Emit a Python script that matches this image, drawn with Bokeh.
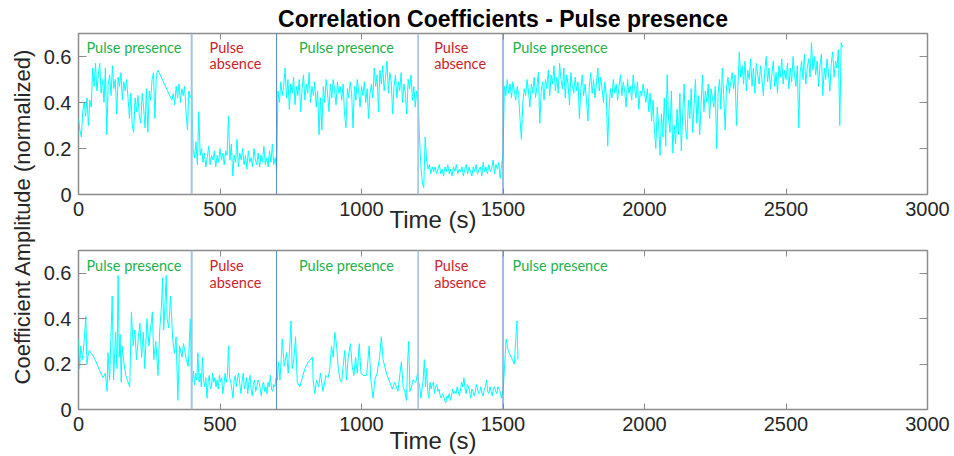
import numpy as np
from bokeh.plotting import figure
from bokeh.layouts import row, column
from bokeh.models import Range1d, LinearAxis, FixedTicker, Span, Label, Title
from bokeh.embed import file_html
from bokeh.resources import INLINE
from bokeh.core.properties import value

# ---------------- data ----------------
STEP = 5  # sampling step (s) of the regularly sampled parts

# top panel (segments, each sampled every STEP seconds from its start)
top_a_start = 0
top_a = [0.33, 0.28, 0.25, 0.36, 0.40, 0.34, 0.42, 0.30, 0.41, 0.38,
         0.55, 0.47, 0.57, 0.45, 0.52, 0.57, 0.44, 0.50, 0.40, 0.55,
         0.26, 0.48, 0.52, 0.43, 0.56, 0.46, 0.50, 0.35, 0.51, 0.47,
         0.53, 0.41, 0.49, 0.45, 0.50, 0.42, 0.33, 0.44, 0.30, 0.27,
         0.42, 0.36, 0.43, 0.34, 0.31, 0.44, 0.38, 0.29, 0.46, 0.27,
         0.45, 0.41, 0.50, 0.53, 0.33, 0.52, 0.54, 0.53]
top_b_start = 330
top_b = [0.41, 0.44, 0.39, 0.47, 0.42, 0.48, 0.40, 0.46, 0.43, 0.47,
         0.36, 0.28, 0.45, 0.42, 0.44]
top_c_start = 405
top_c = [0.20, 0.16, 0.23, 0.13, 0.36, 0.17, 0.20, 0.14, 0.18, 0.12,
         0.16, 0.21, 0.13, 0.17, 0.15, 0.19, 0.12, 0.17, 0.14, 0.20,
         0.15, 0.18, 0.13, 0.19, 0.17, 0.34, 0.15, 0.22, 0.08, 0.17,
         0.14, 0.24, 0.12, 0.18, 0.15, 0.20, 0.13, 0.17, 0.11, 0.19,
         0.14, 0.16, 0.12, 0.20, 0.15, 0.13, 0.18, 0.12, 0.17, 0.14,
         0.21, 0.13, 0.16, 0.12, 0.19, 0.14, 0.22, 0.13, 0.16, 0.11]
top_d_start = 705
top_d = [0.45, 0.40, 0.49, 0.43, 0.47, 0.55, 0.42, 0.50, 0.37, 0.48,
         0.44, 0.51, 0.39, 0.47, 0.43, 0.50, 0.36, 0.46, 0.52, 0.41,
         0.48, 0.44, 0.53, 0.40, 0.47, 0.43, 0.49, 0.38, 0.45, 0.26,
         0.42, 0.28, 0.47, 0.40, 0.50, 0.44, 0.36, 0.48, 0.42, 0.50,
         0.45, 0.39, 0.49, 0.44, 0.47, 0.41, 0.48, 0.35, 0.29, 0.46,
         0.42, 0.49, 0.44, 0.29, 0.47, 0.41, 0.50, 0.45, 0.38, 0.47,
         0.43, 0.49, 0.40, 0.46, 0.33, 0.44, 0.48, 0.42, 0.55, 0.47,
         0.52, 0.36, 0.54, 0.48, 0.56, 0.45, 0.51, 0.58, 0.44, 0.53,
         0.49, 0.35, 0.47, 0.52, 0.42, 0.49, 0.45, 0.53, 0.40, 0.48,
         0.44, 0.35, 0.50, 0.46, 0.52, 0.41, 0.47, 0.38, 0.45, 0.42]
top_e_start = 1205
top_e = [0.25, 0.12, 0.05, 0.03, 0.25, 0.15, 0.11, 0.13, 0.09, 0.12,
         0.10, 0.12, 0.09, 0.11, 0.13, 0.09, 0.11, 0.08, 0.12, 0.10,
         0.13, 0.09, 0.11, 0.08, 0.12, 0.10, 0.13, 0.09, 0.11, 0.10,
         0.12, 0.08, 0.11, 0.13, 0.09, 0.12, 0.10, 0.08, 0.12, 0.10,
         0.13, 0.09, 0.11, 0.12, 0.08, 0.14, 0.10, 0.12, 0.09, 0.13,
         0.10, 0.11, 0.15, 0.09, 0.13, 0.11, 0.14, 0.07, 0.13, 0.17]
top_f_start = 1505
top_f = [0.47, 0.43, 0.50, 0.44, 0.48, 0.42, 0.49, 0.45, 0.41, 0.47,
         0.44, 0.33, 0.24, 0.40, 0.46, 0.43, 0.50, 0.45, 0.38, 0.48,
         0.44, 0.51, 0.42, 0.47, 0.53, 0.31, 0.45, 0.49, 0.41, 0.50,
         0.46, 0.54, 0.43, 0.52, 0.48, 0.56, 0.45, 0.51, 0.44, 0.57,
         0.50, 0.46, 0.55, 0.42, 0.52, 0.48, 0.39, 0.53, 0.47, 0.44,
         0.51, 0.45, 0.49, 0.33, 0.46, 0.52, 0.43, 0.48, 0.41, 0.32,
         0.47, 0.53, 0.44, 0.50, 0.42, 0.48, 0.55, 0.45, 0.51, 0.46,
         0.40, 0.49, 0.43, 0.21, 0.38, 0.46, 0.42, 0.50, 0.44, 0.48,
         0.41, 0.47, 0.52, 0.43, 0.49, 0.45, 0.38, 0.50, 0.44, 0.47,
         0.41, 0.52, 0.46, 0.42, 0.49, 0.37, 0.45, 0.43, 0.48, 0.44,
         0.40, 0.46, 0.36, 0.44, 0.32, 0.41, 0.28, 0.20, 0.38, 0.30,
         0.17, 0.35, 0.25, 0.42, 0.21, 0.52, 0.33, 0.27, 0.45, 0.18,
         0.30, 0.22, 0.37, 0.26, 0.44, 0.19, 0.35, 0.48, 0.29, 0.24,
         0.41, 0.33, 0.46, 0.27, 0.38, 0.50, 0.31, 0.43, 0.26, 0.39,
         0.52, 0.36, 0.45, 0.40, 0.48, 0.33, 0.46, 0.42, 0.38, 0.47,
         0.20, 0.44, 0.50, 0.37, 0.55, 0.43, 0.28, 0.47, 0.51, 0.44,
         0.49, 0.53, 0.46, 0.52, 0.30, 0.47, 0.62, 0.51, 0.56, 0.48,
         0.58, 0.45, 0.54, 0.50, 0.59, 0.47, 0.55, 0.44, 0.57, 0.52,
         0.48, 0.56, 0.50, 0.43, 0.54, 0.60, 0.49, 0.55, 0.46, 0.52,
         0.58, 0.47, 0.53, 0.44, 0.56, 0.51, 0.59, 0.48, 0.54, 0.50,
         0.57, 0.46, 0.55, 0.49, 0.60, 0.52, 0.47, 0.56, 0.29, 0.53,
         0.58, 0.50, 0.61, 0.48, 0.55, 0.59, 0.51, 0.66, 0.54, 0.60,
         0.52, 0.58, 0.47, 0.56, 0.61, 0.43, 0.55, 0.50, 0.59, 0.53,
         0.45, 0.57, 0.62, 0.51, 0.58, 0.55, 0.63, 0.30, 0.66, 0.64]

# bottom panel
bot_a_t = [0, 4, 8, 14, 20, 26, 30, 34, 38, 50, 62, 75, 87, 95, 101, 104, 110, 119, 124, 131,
           136, 140, 144, 147, 151, 154, 160, 167, 181, 187, 193, 199, 205, 211, 217, 223, 229,
           234, 242, 249, 254, 261, 266, 273, 281, 287, 293, 297, 301, 304, 310, 313, 319, 325,
           333, 339, 345, 351, 357, 366, 371, 381, 388, 395, 399]
bot_a_v = [0.31, 0.18, 0.28, 0.22, 0.30, 0.41, 0.20, 0.24, 0.26, 0.24, 0.21, 0.17, 0.14, 0.16,
           0.08, 0.25, 0.13, 0.50, 0.13, 0.34, 0.18, 0.59, 0.23, 0.33, 0.12, 0.28, 0.21, 0.15,
           0.10, 0.43, 0.28, 0.35, 0.22, 0.31, 0.38, 0.23, 0.34, 0.18, 0.40, 0.28, 0.35, 0.43,
           0.22, 0.30, 0.15, 0.35, 0.45, 0.58, 0.35, 0.42, 0.59, 0.40, 0.36, 0.50, 0.31, 0.25,
           0.32, 0.04, 0.28, 0.23, 0.29, 0.22, 0.19, 0.40, 0.16]
bot_b_start = 402
bot_b_step = 4
bot_b = [0.12, 0.17, 0.11, 0.16, 0.13, 0.25, 0.12, 0.16, 0.10, 0.23,
         0.13, 0.10, 0.14, 0.05, 0.12, 0.15, 0.09, 0.10, 0.16, 0.12,
         0.14, 0.10, 0.13, 0.09, 0.15, 0.12, 0.14, 0.07, 0.11, 0.16,
         0.12, 0.15, 0.28, 0.14, 0.12, 0.09, 0.05, 0.13, 0.15, 0.10,
         0.14, 0.16, 0.11, 0.07, 0.12, 0.16, 0.09, 0.11, 0.14, 0.07,
         0.12, 0.15, 0.09, 0.06, 0.11, 0.13, 0.08, 0.10, 0.13, 0.12,
         0.09, 0.06, 0.11, 0.12, 0.08, 0.10, 0.07, 0.12, 0.10, 0.15,
         0.09, 0.08, 0.11, 0.10, 0.14]
bot_c_t = [703, 706, 712, 720, 727, 735, 741, 747, 751, 755, 761, 767, 773, 782, 800, 812, 827,
           829, 835, 841, 849, 855, 864, 874, 882, 888, 894, 900, 906, 912, 918, 924, 930, 935,
           941, 947, 953, 961, 967, 973, 979, 985, 992, 998, 1006, 1018, 1027, 1033, 1041, 1047,
           1055, 1064, 1070, 1076, 1088, 1100, 1109, 1117, 1129, 1135, 1141, 1147, 1153, 1159,
           1163, 1167, 1171, 1177, 1182, 1192, 1198]
bot_c_v = [0.13, 0.21, 0.13, 0.31, 0.19, 0.25, 0.16, 0.29, 0.39, 0.18, 0.22, 0.32, 0.12, 0.10,
           0.18, 0.21, 0.23, 0.13, 0.07, 0.13, 0.10, 0.16, 0.08, 0.15, 0.14, 0.18, 0.28, 0.23,
           0.34, 0.28, 0.18, 0.13, 0.12, 0.19, 0.26, 0.13, 0.23, 0.29, 0.19, 0.15, 0.23, 0.16,
           0.29, 0.16, 0.15, 0.15, 0.28, 0.13, 0.05, 0.13, 0.16, 0.23, 0.32, 0.22, 0.16, 0.12,
           0.09, 0.12, 0.08, 0.15, 0.21, 0.10, 0.08, 0.04, 0.21, 0.30, 0.08, 0.10, 0.13, 0.12,
           0.16]
bot_d_start = 1202
bot_d_step = 4
bot_d = [0.12, 0.10, 0.05, 0.09, 0.13, 0.22, 0.10, 0.18, 0.08, 0.05,
         0.12, 0.09, 0.11, 0.12, 0.07, 0.10, 0.11, 0.08, 0.09, 0.06,
         0.05, 0.07, 0.06, 0.04, 0.03, 0.06, 0.05, 0.07, 0.04, 0.06,
         0.09, 0.07, 0.08, 0.07, 0.10, 0.08, 0.06, 0.09, 0.12, 0.10,
         0.14, 0.09, 0.07, 0.11, 0.10, 0.08, 0.05, 0.09, 0.08, 0.06,
         0.08, 0.11, 0.09, 0.07, 0.08, 0.10, 0.07, 0.06, 0.09, 0.10,
         0.13, 0.08, 0.07, 0.10, 0.08, 0.06, 0.09, 0.10, 0.08, 0.07,
         0.10, 0.09, 0.08, 0.05, 0.07]
bot_e_t = [1500, 1511, 1518, 1540, 1549, 1553]
bot_e_v = [0.07, 0.31, 0.26, 0.20, 0.39, 0.22]

boundaries = [400, 700, 1200, 1500]
x_ticks = [0, 500, 1000, 1500, 2000, 2500, 3000]
y_ticks = [0, 0.2, 0.4, 0.6]

presence_text = "Pulse presence"
absence_lines = ["Pulse", "absence"]
presence_x = [28, 779, 1534]
absence_x = [463, 1257]

# ---------------- assemble series ----------------
def grid(start, step, vals):
    return list(start + step * np.arange(len(vals)))

top_t = (grid(top_a_start, STEP, top_a) + grid(top_b_start, STEP, top_b) +
         grid(top_c_start, STEP, top_c) + grid(top_d_start, STEP, top_d) +
         grid(top_e_start, STEP, top_e) + grid(top_f_start, STEP, top_f))
top_v = top_a + top_b + top_c + top_d + top_e + top_f

bot_t = (bot_a_t + grid(bot_b_start, bot_b_step, bot_b) + bot_c_t +
         grid(bot_d_start, bot_d_step, bot_d) + bot_e_t)
bot_v = bot_a_v + bot_b + bot_c_v + bot_d + bot_e_v

# ---------------- styling ----------------
FONT = "Liberation Sans"
BOX = "#8c8c8c"
TXT = "#262626"
sep_colors = ["#9ec5e8", "#4a86c5", "#9ec5e8", "#5b92cc"]
sep_widths = [2, 1, 1.6, 1.2]
# x label sits left of the frame centre (as in the reference): pad with no-break spaces
XLABEL = "Time (s)" + "\u00a0" * 21


def style_axis(ax, ticks, tick_len, show_labels=True):
    ax.ticker = FixedTicker(ticks=ticks)
    ax.axis_line_color = None
    ax.major_tick_in = tick_len
    ax.major_tick_out = 0
    ax.major_tick_line_color = BOX
    ax.major_tick_line_width = 1
    ax.minor_tick_line_color = None
    ax.major_label_text_font = FONT
    if show_labels:
        ax.major_label_text_color = TXT
        ax.major_label_text_font_size = "20px"
        ax.major_label_standoff = 7
    else:
        ax.major_label_text_color = None
        ax.major_label_text_font_size = "1px"
        ax.major_label_standoff = 0


def make_panel(t, v, height, border_top, border_bottom, xlabel_standoff, text_y, title=None):
    p = figure(width=914, height=height, x_range=Range1d(0, 3000), y_range=Range1d(0, 0.7),
               toolbar_location=None, output_backend="svg",
               min_border_left=37, min_border_right=27,
               min_border_top=border_top, min_border_bottom=border_bottom,
               outline_line_color=BOX, outline_line_width=1.5,
               background_fill_color="white", border_fill_color="white")
    p.grid.visible = False
    if title is not None:
        p.title = Title(text=title, align="center", text_font=FONT, text_font_size="23px",
                        text_font_style="bold", text_color="#000000", standoff=4)
    style_axis(p.xaxis[0], x_ticks, 6)
    style_axis(p.yaxis[0], y_ticks, 8)
    p.yaxis[0].major_label_overrides = {0: "0"}
    xa = p.xaxis[0]
    xa.axis_label = XLABEL
    xa.axis_label_text_font = FONT
    xa.axis_label_text_font_size = "24px"
    xa.axis_label_text_font_style = "normal"
    xa.axis_label_text_color = TXT
    xa.axis_label_standoff = xlabel_standoff

    top_ax = LinearAxis()
    right_ax = LinearAxis()
    p.add_layout(top_ax, "above")
    p.add_layout(right_ax, "right")
    style_axis(top_ax, x_ticks, 6, show_labels=False)
    style_axis(right_ax, y_ticks, 8, show_labels=False)

    p.line(t, v, line_color="#00ffff", line_width=1)

    for b, c, w in zip(boundaries, sep_colors, sep_widths):
        p.add_layout(Span(location=b, dimension="height", line_color=c, line_width=w))

    p.text(x=presence_x, y=[text_y[0]] * len(presence_x), text=[presence_text] * len(presence_x),
           text_font=value("Lato"), text_font_size="14.5px", text_color="#22b24c",
           text_align="left", text_baseline="middle")
    for i, line_txt in enumerate(absence_lines):
        p.text(x=absence_x, y=[text_y[i]] * len(absence_x), text=[line_txt] * len(absence_x),
               text_font=value("Lato"), text_font_size="14.5px", text_color="#cc2229",
               text_align="left", text_baseline="middle")
    return p


top = make_panel(top_t, top_v, 236, 33, 42, -13, [0.639, 0.570],
                 title="Correlation Coefficients - Pulse presence")
bottom = make_panel(bot_t, bot_v, 220, 14, 46, -7, [0.635, 0.561])

lab = figure(width=40, height=456, x_range=Range1d(0, 40), y_range=Range1d(0, 456),
             x_axis_type=None, y_axis_type=None, toolbar_location=None,
             output_backend="svg", min_border=0, outline_line_color=None)
lab.grid.visible = False
lab.add_layout(Label(x=22, y=240, text="Coefficient Amplitude (normalized)", angle=90,
                     angle_units="deg", text_align="center", text_baseline="middle",
                     text_font=FONT, text_font_size="22px", text_color=TXT))

layout = row(lab, column(top, bottom, spacing=0), spacing=0)

open("out.html", "w").write(file_html(layout, INLINE))
